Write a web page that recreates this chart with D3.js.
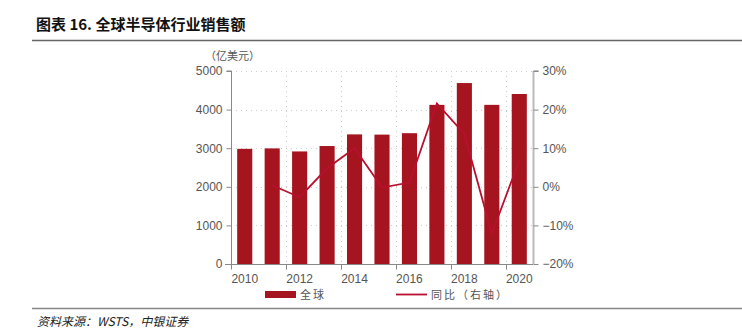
<!DOCTYPE html>
<html><head><meta charset="utf-8">
<script src="https://cdn.jsdelivr.net/npm/d3@7"></script>
<style>body{margin:0;background:#fff}svg{display:block}</style>
</head><body>
<svg id="c" width="742" height="336"></svg>
<script>
const years = [2010,2011,2012,2013,2014,2015,2016,2017,2018,2019,2020];
const sales = [2983,2995,2916,3056,3358,3352,3389,4122,4688,4123,4404];
const growth = [null,0.4,-2.7,4.8,10.0,-0.2,1.1,21.6,13.7,-12.1,6.8];
const leftTicks = [0,1000,2000,3000,4000,5000];
const rightTicks = [-20,-10,0,10,20,30];
const xLabels = [2010,2012,2014,2016,2018,2020];

const svg = d3.select("#c");
const cjk = "'Noto Sans CJK SC', sans-serif";
const latin = "'Liberation Sans', Arial, sans-serif";
const L = 231, R = 533, T = 71, B = 264;
const barColor = "#a6151f", lineColor = "#b8102e";

// title
svg.append("text").attr("x",36).attr("y",30).attr("font-family",cjk).attr("font-weight","bold")
  .attr("font-size",15).attr("fill","#111").text("图表 16. 全球半导体行业销售额");
svg.append("line").attr("x1",32).attr("x2",742).attr("y1",40.5).attr("y2",40.5).attr("stroke","#666").attr("stroke-width",1.5);
svg.append("line").attr("x1",32).attr("x2",742).attr("y1",308.5).attr("y2",308.5).attr("stroke","#888").attr("stroke-width",1.5);
svg.append("text").attr("x",37).attr("y",326).attr("font-family",cjk).attr("font-style","italic")
  .attr("font-size",12).attr("fill","#222").text("资料来源：WSTS，中银证券");

const x = d3.scaleBand().domain(years).range([L,R]).paddingInner(0.45).paddingOuter(0.225);
const y = d3.scaleLinear().domain([0,5000]).range([B,T]);
const y2 = d3.scaleLinear().domain([-20,30]).range([B,T]);
const step = x.step();

// grid
const g = svg.append("g");
leftTicks.slice(1).forEach(t=>{
  g.append("line").attr("x1",L).attr("x2",R).attr("y1",Math.round(y(t))+0.5).attr("y2",Math.round(y(t))+0.5)
   .attr("stroke","#ccc").attr("stroke-dasharray","1,4");
});
const vgrid = [1,2,3,4,5].map(i=>L+i*2*step);
vgrid.forEach(v=>{
  g.append("line").attr("x1",Math.round(v)+0.5).attr("x2",Math.round(v)+0.5).attr("y1",T).attr("y2",B)
   .attr("stroke","#ccc").attr("stroke-dasharray","1,4");
});

// bars
svg.append("g").selectAll("rect").data(years).join("rect")
  .attr("x",d=>x(d)).attr("width",x.bandwidth())
  .attr("y",(d,i)=>y(sales[i])).attr("height",(d,i)=>B-y(sales[i]))
  .attr("fill",barColor);

// line
const line = d3.line().defined(d=>d[1]!=null).x(d=>x(d[0])+x.bandwidth()/2).y(d=>y2(d[1]));
svg.append("path").datum(years.map((yr,i)=>[yr,growth[i]])).attr("d",line)
  .attr("fill","none").attr("stroke",lineColor).attr("stroke-width",1.8);

// left axis
const la = svg.append("g").attr("transform",`translate(${L+0.5},0)`)
  .call(d3.axisLeft(y).tickValues(leftTicks).tickSize(5).tickPadding(4).tickFormat(d3.format("d")));
la.selectAll("path,line").attr("stroke","#888");
la.selectAll("text").attr("font-family",latin).attr("font-size",12).attr("fill","#555");
la.select(".domain").attr("d",`M0,${T}H-5M0,${T}V${B}`);

// right axis
const ra = svg.append("g").attr("transform",`translate(${R+0.5},0)`)
  .call(d3.axisRight(y2).tickValues(rightTicks).tickSize(5).tickPadding(4).tickFormat(d=>(d<0?"\u2212"+(-d):d)+"%"));
ra.selectAll("path,line").attr("stroke","#888");
ra.selectAll("text").attr("font-family",latin).attr("font-size",12).attr("fill","#555");
ra.select(".domain").attr("d",`M0,${T}H5M0,${T}V${B}`).attr("stroke","#bbb").attr("stroke-width",2);

// bottom axis
const ba = svg.append("g").attr("transform",`translate(0,${B+0.5})`);
ba.append("line").attr("x1",L-6).attr("x2",R).attr("stroke","#888");
[0,1,2,3,4,5].map(i=>L+i*2*step).forEach(v=>{
  ba.append("line").attr("x1",Math.round(v)+0.5).attr("x2",Math.round(v)+0.5).attr("y1",0).attr("y2",5).attr("stroke","#888");
});
ba.selectAll("text").data(xLabels).join("text")
  .attr("x",d=>x(d)+x.bandwidth()/2).attr("y",18).attr("text-anchor","middle")
  .attr("font-family",latin).attr("font-size",12).attr("fill","#555").text(d=>d);

// unit label
svg.append("text").attr("x",205).attr("y",60).attr("font-family",cjk).attr("font-size",11)
  .attr("fill","#555").text("（亿美元）");

// legend
svg.append("rect").attr("x",265).attr("y",291).attr("width",31).attr("height",7).attr("fill",barColor);
svg.append("text").attr("x",300).attr("y",299).attr("font-family",cjk).attr("font-size",11).attr("fill","#555")
  .attr("letter-spacing",2).text("全球");
svg.append("line").attr("x1",396).attr("x2",427).attr("y1",294.5).attr("y2",294.5).attr("stroke",lineColor).attr("stroke-width",1.8);
svg.append("text").attr("x",431).attr("y",299).attr("font-family",cjk).attr("font-size",11).attr("fill","#555")
  .attr("letter-spacing",2).text("同比（右轴）");
</script>
</body></html>
